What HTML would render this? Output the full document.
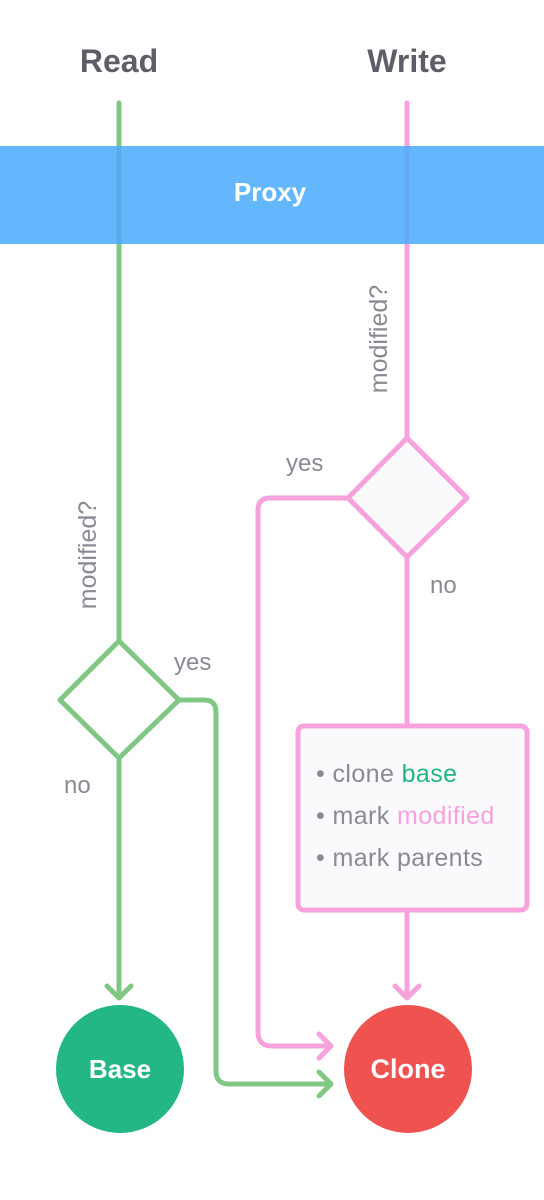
<!DOCTYPE html>
<html><head><meta charset="utf-8"><style>
html,body{margin:0;padding:0;background:#fff;}
svg{display:block;font-family:"Liberation Sans",sans-serif;}
</style></head><body>
<svg width="544" height="1200" viewBox="0 0 544 1200" xmlns="http://www.w3.org/2000/svg">
<rect width="544" height="1200" fill="#fff"/>
<text x="119" y="72" text-anchor="middle" font-size="32" font-weight="bold" fill="#5f5e68">Read</text>
<text x="407" y="72" text-anchor="middle" font-size="32" font-weight="bold" fill="#5f5e68">Write</text>
<g fill="none" stroke-width="5" stroke-linecap="round" stroke-linejoin="round">
<line x1="119" y1="103" x2="119" y2="640" stroke="#81c784"/>
<polygon points="119,641 179,700 119,758 60,700" stroke="#81c784" fill="#fff"/>
<line x1="119" y1="758" x2="119" y2="996" stroke="#81c784"/>
<polyline points="107,986 119,998 131,986" stroke="#81c784"/>
<path d="M179,700 H204 Q216,700 216,712 V1071 Q216,1084 229,1084 H330" stroke="#81c784"/>
<polyline points="319,1072 331,1084 319,1096" stroke="#81c784"/>
<line x1="407" y1="103" x2="407" y2="438" stroke="#f6a2dc"/>
<polygon points="407,438 467,498 407,557 348,498" stroke="#f6a2dc" fill="#fafafd"/>
<line x1="407" y1="557" x2="407" y2="725" stroke="#f6a2dc"/>
<path d="M348,498 H270 Q258,498 258,510 V1032 Q258,1046 272,1046 H330" stroke="#f6a2dc"/>
<polyline points="319,1034 331,1046 319,1058" stroke="#f6a2dc"/>
<rect x="298" y="726" width="229" height="184" rx="6" stroke="#f6a2dc" fill="#fafafd"/>
<line x1="407" y1="910" x2="407" y2="996" stroke="#f6a2dc"/>
<polyline points="395,986 407,998 419,986" stroke="#f6a2dc"/>
</g>
<rect x="0" y="146" width="544" height="98" fill="#4aabfc" fill-opacity="0.86"/>
<text x="270" y="201" text-anchor="middle" font-size="26" font-weight="bold" fill="#fff">Proxy</text>
<g font-size="25" fill="#8b8a94">
<text transform="translate(96,555) rotate(-90)" text-anchor="middle">modified?</text>
<text transform="translate(387,339) rotate(-90)" text-anchor="middle">modified?</text>
</g>
<g font-size="24" fill="#8b8a94">
<text x="174" y="670">yes</text>
<text x="64" y="793">no</text>
<text x="286" y="471">yes</text>
<text x="430" y="593">no</text>
</g>
<g font-size="25" fill="#8b8a94" letter-spacing="0.4">
<text x="316" y="782">• clone <tspan fill="#22b584">base</tspan></text>
<text x="316" y="824">• mark <tspan fill="#f6a2dc">modified</tspan></text>
<text x="316" y="866">• mark parents</text>
</g>
<circle cx="120" cy="1069" r="64" fill="#23b785"/>
<circle cx="408" cy="1069" r="64" fill="#ef5350"/>
<text x="120" y="1078" text-anchor="middle" font-size="26" font-weight="bold" fill="#fff">Base</text>
<text x="408" y="1078" text-anchor="middle" font-size="27" font-weight="bold" fill="#fff">Clone</text>
</svg>
</body></html>
